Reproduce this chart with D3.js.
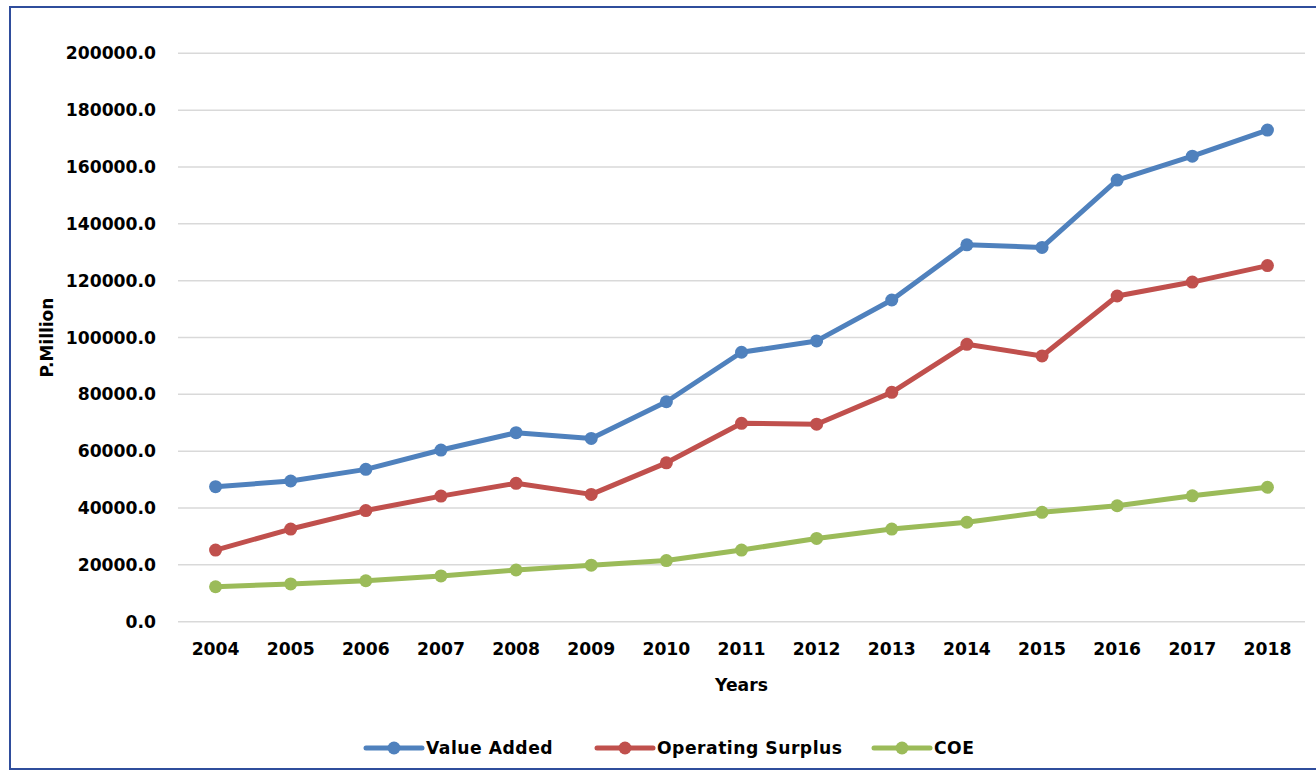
<!DOCTYPE html>
<html>
<head>
<meta charset="utf-8">
<script src="https://cdn.jsdelivr.net/npm/d3@7"></script>
<style>
  html, body { margin: 0; padding: 0; background: #fff; }
  svg { display: block; }
  text { font-family: "DejaVu Sans", sans-serif; font-weight: bold; fill: #000; }
</style>
</head>
<body>
<svg></svg>
<script>
// chart data
const years = ['2004', '2005', '2006', '2007', '2008', '2009', '2010', '2011',
  '2012', '2013', '2014', '2015', '2016', '2017', '2018'];

const valueAdded = [47500, 49500, 53600, 60400, 66500, 64500, 77400, 94800,
  98800, 113200, 132600, 131700, 155400, 163800, 173000];
const operatingSurplus = [25200, 32600, 39100, 44200, 48700, 44800, 55900, 69800,
  69500, 80700, 97600, 93500, 114600, 119500, 125300];
const coe = [12300, 13300, 14400, 16100, 18200, 19900, 21500, 25200,
  29300, 32600, 35000, 38500, 40800, 44300, 47300];

const seriesNames = ['Value Added', 'Operating Surplus', 'COE'];
const seriesColors = ['#4F81BD', '#C0504D', '#9BBB59'];
const yTicks = [0, 20000, 40000, 60000, 80000, 100000, 120000, 140000, 160000, 180000, 200000];

const width = 1316, height = 771;
const margin = {top: 53.3, right: 11, bottom: 149.3, left: 178};

const svg = d3.select('svg')
  .attr('width', width)
  .attr('height', height);

// outer frame
svg.append('rect')
  .attr('x', 10).attr('y', 7)
  .attr('width', 1310).attr('height', 762)
  .attr('fill', 'none')
  .attr('stroke', '#2F4D9C')
  .attr('stroke-width', 2);

const x = d3.scaleBand()
  .domain(years)
  .range([margin.left, width - margin.right]);

const y = d3.scaleLinear()
  .domain([0, 200000])
  .range([height - margin.bottom, margin.top]);

// gridlines
svg.append('g')
  .selectAll('line')
  .data(yTicks)
  .join('line')
  .attr('x1', margin.left)
  .attr('x2', width - margin.right)
  .attr('y1', d => y(d))
  .attr('y2', d => y(d))
  .attr('stroke', '#D9D9D9')
  .attr('stroke-width', 1.5);

// y axis labels
const yAxis = svg.append('g')
  .attr('transform', `translate(${margin.left},0)`)
  .call(d3.axisLeft(y).tickValues(yTicks).tickFormat(d3.format('.1f')).tickSize(0).tickPadding(22));
yAxis.select('.domain').remove();
yAxis.selectAll('text')
  .attr('font-size', 17.2)
  .attr('font-family', null);

// x axis labels
const xAxis = svg.append('g')
  .attr('transform', `translate(0,${height - margin.bottom})`)
  .call(d3.axisBottom(x).tickSize(0).tickPadding(21));
xAxis.select('.domain').remove();
xAxis.selectAll('text')
  .attr('font-size', 17.2)
  .attr('font-family', null);

// axis titles
svg.append('text')
  .attr('transform', `translate(53,${(y(0) + y(200000)) / 2}) rotate(-90)`)
  .attr('text-anchor', 'middle')
  .attr('font-size', 17)
  .text('P.Million');

svg.append('text')
  .attr('x', (margin.left + width - margin.right) / 2)
  .attr('y', 691)
  .attr('text-anchor', 'middle')
  .attr('font-size', 17.2)
  .text('Years');

// lines and markers
const allSeries = [valueAdded, operatingSurplus, coe];
const line = d3.line()
  .x((d, i) => x(years[i]) + x.bandwidth() / 2)
  .y(d => y(d));

allSeries.forEach((values, k) => {
  const g = svg.append('g');
  g.append('path')
    .datum(values)
    .attr('d', line)
    .attr('fill', 'none')
    .attr('stroke', seriesColors[k])
    .attr('stroke-width', 5)
    .attr('stroke-linejoin', 'round')
    .attr('stroke-linecap', 'round');
  g.selectAll('circle')
    .data(values)
    .join('circle')
    .attr('cx', (d, i) => x(years[i]) + x.bandwidth() / 2)
    .attr('cy', d => y(d))
    .attr('r', 6.5)
    .attr('fill', seriesColors[k]);
});

// legend
const legendX = [366, 597, 874];
const legend = svg.append('g')
  .selectAll('g')
  .data(seriesNames)
  .join('g')
  .attr('transform', (d, i) => `translate(${legendX[i]},748)`);

legend.append('line')
  .attr('x1', 0).attr('x2', 56)
  .attr('stroke', (d, i) => seriesColors[i])
  .attr('stroke-width', 5)
  .attr('stroke-linecap', 'round');
legend.append('circle')
  .attr('cx', 28)
  .attr('r', 6.5)
  .attr('fill', (d, i) => seriesColors[i]);
legend.append('text')
  .attr('x', 60)
  .attr('dy', '0.36em')
  .attr('font-size', 17.2)
  .attr('letter-spacing', 0.5)
  .text(d => d);
</script>
</body>
</html>
